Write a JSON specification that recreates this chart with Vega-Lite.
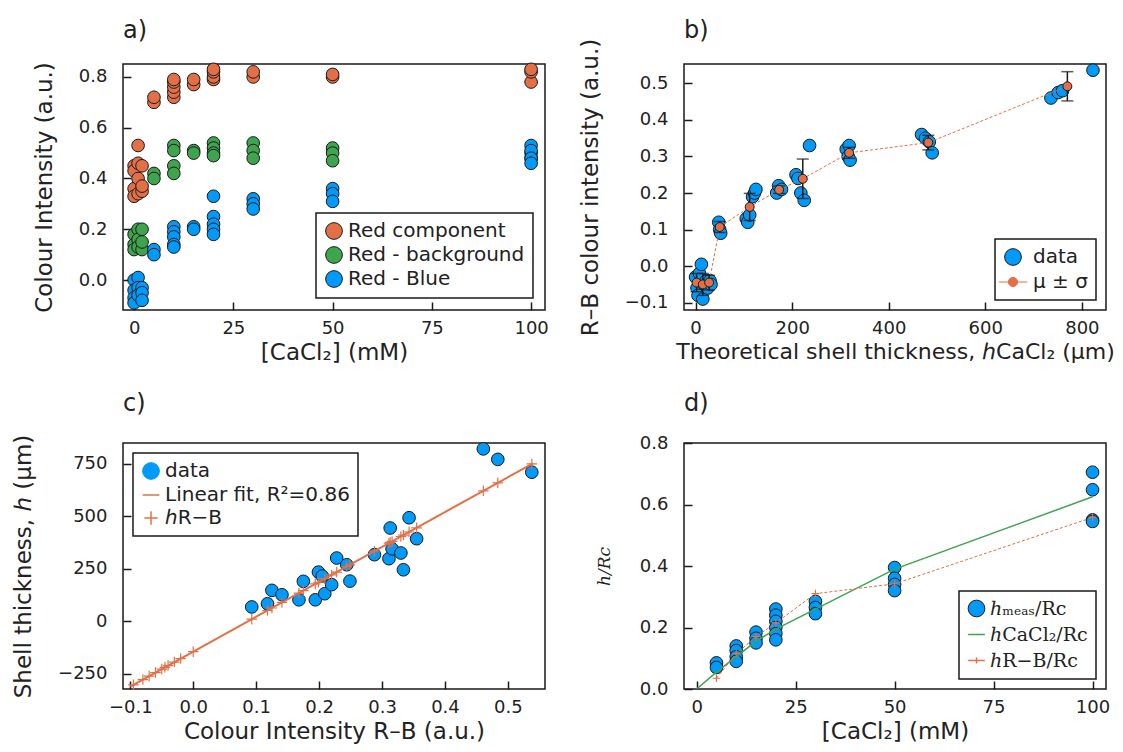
{
  "$schema": "https://vega.github.io/schema/vega-lite/v6.json",
  "background": "white",
  "padding": {"left": 11, "top": 18, "right": 5, "bottom": 5},
  "config": {
    "font": "DejaVu Sans",
    "view": {"stroke": "#1a1a1a", "strokeWidth": 1.5},
    "axis": {"grid": false, "domain": false, "tickSize": -8, "tickColor": "#1a1a1a", "tickWidth": 1.5, "labelFontSize": 18, "labelColor": "#222", "titleFontSize": 23, "titleFontWeight": "normal", "titleColor": "#222", "labelFont": "DejaVu Sans", "titleFont": "DejaVu Sans", "labelFlush": false, "labelOverlap": false, "labelBound": false, "titleLimit": 1000},
    "axisX": {"labelPadding": 17, "titlePadding": 4},
    "axisY": {"labelPadding": 24, "titlePadding": 22},
    "legend": {"strokeColor": "#1a1a1a", "strokeWidth": 1.5, "fillColor": "white", "padding": 8, "labelFontSize": 20, "labelColor": "#222", "labelFont": "DejaVu Sans", "labelLimit": 0, "symbolStrokeColor": "#1a1a1a", "symbolStrokeWidth": 1, "rowPadding": 2, "cornerRadius": 0, "symbolSize": 280, "symbolOpacity": 1},
    "title": {"anchor": "start", "frame": "group", "fontSize": 24, "fontWeight": "normal", "offset": 18, "color": "#222", "font": "DejaVu Sans"}
  },
  "datasets": {
    "a": [
      {"c": 0, "v": 0.45, "s": "Red component"}, {"c": 0, "v": 0.43, "s": "Red component"}, {"c": 0, "v": 0.36, "s": "Red component"}, {"c": 0, "v": 0.33, "s": "Red component"},
      {"c": 1, "v": 0.53, "s": "Red component"}, {"c": 1, "v": 0.40, "s": "Red component"}, {"c": 1, "v": 0.34, "s": "Red component"}, {"c": 1, "v": 0.46, "s": "Red component"},
      {"c": 2, "v": 0.45, "s": "Red component"}, {"c": 2, "v": 0.35, "s": "Red component"}, {"c": 2, "v": 0.37, "s": "Red component"},
      {"c": 5, "v": 0.70, "s": "Red component"}, {"c": 5, "v": 0.72, "s": "Red component"},
      {"c": 10, "v": 0.72, "s": "Red component"}, {"c": 10, "v": 0.74, "s": "Red component"}, {"c": 10, "v": 0.76, "s": "Red component"}, {"c": 10, "v": 0.78, "s": "Red component"}, {"c": 10, "v": 0.79, "s": "Red component"},
      {"c": 15, "v": 0.77, "s": "Red component"}, {"c": 15, "v": 0.79, "s": "Red component"},
      {"c": 20, "v": 0.79, "s": "Red component"}, {"c": 20, "v": 0.80, "s": "Red component"}, {"c": 20, "v": 0.82, "s": "Red component"}, {"c": 20, "v": 0.83, "s": "Red component"},
      {"c": 30, "v": 0.80, "s": "Red component"}, {"c": 30, "v": 0.82, "s": "Red component"},
      {"c": 50, "v": 0.80, "s": "Red component"}, {"c": 50, "v": 0.81, "s": "Red component"},
      {"c": 100, "v": 0.78, "s": "Red component"}, {"c": 100, "v": 0.82, "s": "Red component"}, {"c": 100, "v": 0.83, "s": "Red component"},
      {"c": 0, "v": 0.18, "s": "Red - background"}, {"c": 0, "v": 0.14, "s": "Red - background"}, {"c": 0, "v": 0.12, "s": "Red - background"},
      {"c": 1, "v": 0.20, "s": "Red - background"}, {"c": 1, "v": 0.16, "s": "Red - background"}, {"c": 1, "v": 0.13, "s": "Red - background"},
      {"c": 2, "v": 0.20, "s": "Red - background"}, {"c": 2, "v": 0.12, "s": "Red - background"}, {"c": 2, "v": 0.15, "s": "Red - background"},
      {"c": 5, "v": 0.42, "s": "Red - background"}, {"c": 5, "v": 0.40, "s": "Red - background"},
      {"c": 10, "v": 0.53, "s": "Red - background"}, {"c": 10, "v": 0.51, "s": "Red - background"}, {"c": 10, "v": 0.45, "s": "Red - background"}, {"c": 10, "v": 0.42, "s": "Red - background"},
      {"c": 15, "v": 0.51, "s": "Red - background"}, {"c": 15, "v": 0.50, "s": "Red - background"},
      {"c": 20, "v": 0.54, "s": "Red - background"}, {"c": 20, "v": 0.52, "s": "Red - background"}, {"c": 20, "v": 0.50, "s": "Red - background"}, {"c": 20, "v": 0.49, "s": "Red - background"},
      {"c": 30, "v": 0.54, "s": "Red - background"}, {"c": 30, "v": 0.51, "s": "Red - background"}, {"c": 30, "v": 0.48, "s": "Red - background"},
      {"c": 50, "v": 0.52, "s": "Red - background"}, {"c": 50, "v": 0.50, "s": "Red - background"}, {"c": 50, "v": 0.47, "s": "Red - background"},
      {"c": 100, "v": 0.50, "s": "Red - background"}, {"c": 100, "v": 0.48, "s": "Red - background"},
      {"c": 0, "v": 0.0, "s": "Red - Blue"}, {"c": 0, "v": -0.04, "s": "Red - Blue"}, {"c": 0, "v": -0.07, "s": "Red - Blue"}, {"c": 0, "v": -0.09, "s": "Red - Blue"},
      {"c": 1, "v": 0.01, "s": "Red - Blue"}, {"c": 1, "v": -0.03, "s": "Red - Blue"}, {"c": 1, "v": -0.06, "s": "Red - Blue"},
      {"c": 2, "v": -0.03, "s": "Red - Blue"}, {"c": 2, "v": -0.05, "s": "Red - Blue"}, {"c": 2, "v": -0.08, "s": "Red - Blue"},
      {"c": 5, "v": 0.12, "s": "Red - Blue"}, {"c": 5, "v": 0.10, "s": "Red - Blue"},
      {"c": 10, "v": 0.21, "s": "Red - Blue"}, {"c": 10, "v": 0.19, "s": "Red - Blue"}, {"c": 10, "v": 0.17, "s": "Red - Blue"}, {"c": 10, "v": 0.14, "s": "Red - Blue"}, {"c": 10, "v": 0.13, "s": "Red - Blue"},
      {"c": 15, "v": 0.21, "s": "Red - Blue"}, {"c": 15, "v": 0.20, "s": "Red - Blue"},
      {"c": 20, "v": 0.33, "s": "Red - Blue"}, {"c": 20, "v": 0.25, "s": "Red - Blue"}, {"c": 20, "v": 0.22, "s": "Red - Blue"}, {"c": 20, "v": 0.20, "s": "Red - Blue"}, {"c": 20, "v": 0.18, "s": "Red - Blue"},
      {"c": 30, "v": 0.32, "s": "Red - Blue"}, {"c": 30, "v": 0.30, "s": "Red - Blue"}, {"c": 30, "v": 0.28, "s": "Red - Blue"},
      {"c": 50, "v": 0.36, "s": "Red - Blue"}, {"c": 50, "v": 0.34, "s": "Red - Blue"}, {"c": 50, "v": 0.31, "s": "Red - Blue"},
      {"c": 100, "v": 0.53, "s": "Red - Blue"}, {"c": 100, "v": 0.51, "s": "Red - Blue"}, {"c": 100, "v": 0.48, "s": "Red - Blue"}, {"c": 100, "v": 0.46, "s": "Red - Blue"}
    ],
    "b": [
      {"h": 0, "r": -0.03, "s": "data"}, {"h": 3, "r": -0.06, "s": "data"}, {"h": 5, "r": -0.08, "s": "data"}, {"h": 8, "r": -0.02, "s": "data"},
      {"h": 12, "r": 0.005, "s": "data"}, {"h": 15, "r": -0.09, "s": "data"}, {"h": 18, "r": -0.05, "s": "data"}, {"h": 22, "r": -0.04, "s": "data"},
      {"h": 25, "r": -0.06, "s": "data"}, {"h": 30, "r": -0.04, "s": "data"}, {"h": 32, "r": -0.05, "s": "data"},
      {"h": 48, "r": 0.12, "s": "data"}, {"h": 50, "r": 0.10, "s": "data"}, {"h": 52, "r": 0.09, "s": "data"},
      {"h": 105, "r": 0.13, "s": "data"}, {"h": 108, "r": 0.12, "s": "data"}, {"h": 112, "r": 0.14, "s": "data"}, {"h": 118, "r": 0.19, "s": "data"}, {"h": 122, "r": 0.20, "s": "data"}, {"h": 125, "r": 0.21, "s": "data"},
      {"h": 168, "r": 0.20, "s": "data"}, {"h": 172, "r": 0.22, "s": "data"}, {"h": 178, "r": 0.21, "s": "data"},
      {"h": 208, "r": 0.25, "s": "data"}, {"h": 212, "r": 0.24, "s": "data"}, {"h": 218, "r": 0.20, "s": "data"}, {"h": 225, "r": 0.18, "s": "data"}, {"h": 236, "r": 0.33, "s": "data"},
      {"h": 312, "r": 0.32, "s": "data"}, {"h": 316, "r": 0.30, "s": "data"}, {"h": 320, "r": 0.29, "s": "data"}, {"h": 318, "r": 0.33, "s": "data"},
      {"h": 468, "r": 0.36, "s": "data"}, {"h": 476, "r": 0.35, "s": "data"}, {"h": 484, "r": 0.34, "s": "data"}, {"h": 490, "r": 0.31, "s": "data"},
      {"h": 736, "r": 0.46, "s": "data"}, {"h": 751, "r": 0.475, "s": "data"}, {"h": 760, "r": 0.48, "s": "data"}, {"h": 823, "r": 0.536, "s": "data"}
    ],
    "bm": [
      {"h": 2, "r": -0.045, "sd": 0.025, "s": "μ ± σ"}, {"h": 15, "r": -0.05, "sd": 0.03, "s": "μ ± σ"}, {"h": 28, "r": -0.045, "sd": 0.02, "s": "μ ± σ"},
      {"h": 50, "r": 0.107, "sd": 0.015, "s": "μ ± σ"}, {"h": 112, "r": 0.162, "sd": 0.037, "s": "μ ± σ"}, {"h": 173, "r": 0.209, "sd": 0.01, "s": "μ ± σ"},
      {"h": 222, "r": 0.239, "sd": 0.054, "s": "μ ± σ"}, {"h": 318, "r": 0.31, "sd": 0.015, "s": "μ ± σ"}, {"h": 482, "r": 0.338, "sd": 0.02, "s": "μ ± σ"},
      {"h": 770, "r": 0.492, "sd": 0.04, "s": "μ ± σ"}
    ],
    "c": [
      {"x": 0.093, "h": 68, "s": "data"}, {"x": 0.118, "h": 83, "s": "data"}, {"x": 0.125, "h": 147, "s": "data"}, {"x": 0.141, "h": 126, "s": "data"},
      {"x": 0.168, "h": 102, "s": "data"}, {"x": 0.175, "h": 190, "s": "data"}, {"x": 0.194, "h": 102, "s": "data"}, {"x": 0.199, "h": 234, "s": "data"},
      {"x": 0.205, "h": 215, "s": "data"}, {"x": 0.209, "h": 131, "s": "data"}, {"x": 0.220, "h": 174, "s": "data"}, {"x": 0.228, "h": 301, "s": "data"},
      {"x": 0.244, "h": 269, "s": "data"}, {"x": 0.249, "h": 191, "s": "data"}, {"x": 0.288, "h": 317, "s": "data"}, {"x": 0.311, "h": 298, "s": "data"},
      {"x": 0.313, "h": 444, "s": "data"}, {"x": 0.316, "h": 345, "s": "data"}, {"x": 0.330, "h": 325, "s": "data"}, {"x": 0.334, "h": 245, "s": "data"},
      {"x": 0.343, "h": 493, "s": "data"}, {"x": 0.355, "h": 393, "s": "data"}, {"x": 0.461, "h": 821, "s": "data"}, {"x": 0.484, "h": 771, "s": "data"},
      {"x": 0.538, "h": 710, "s": "data"}
    ],
    "cfit": [
      {"x": -0.1, "h": -311.2, "s": "Linear fit, R²=0.86"}, {"x": 0.54, "h": 752.5, "s": "Linear fit, R²=0.86"}
    ],
    "crb": [
      {"x": -0.095, "h": -302.9, "s": "ℎR−B"}, {"x": -0.08, "h": -278.0, "s": "ℎR−B"}, {"x": -0.07, "h": -261.3, "s": "ℎR−B"}, {"x": -0.06, "h": -244.7, "s": "ℎR−B"},
      {"x": -0.05, "h": -228.1, "s": "ℎR−B"}, {"x": -0.045, "h": -219.8, "s": "ℎR−B"}, {"x": -0.04, "h": -211.5, "s": "ℎR−B"}, {"x": -0.03, "h": -194.9, "s": "ℎR−B"},
      {"x": -0.02, "h": -178.2, "s": "ℎR−B"}, {"x": 0.0, "h": -145.0, "s": "ℎR−B"}, {"x": 0.093, "h": 9.6, "s": "ℎR−B"}, {"x": 0.118, "h": 51.1, "s": "ℎR−B"},
      {"x": 0.125, "h": 62.8, "s": "ℎR−B"}, {"x": 0.141, "h": 89.3, "s": "ℎR−B"}, {"x": 0.168, "h": 134.2, "s": "ℎR−B"}, {"x": 0.175, "h": 145.9, "s": "ℎR−B"},
      {"x": 0.194, "h": 177.4, "s": "ℎR−B"}, {"x": 0.199, "h": 185.7, "s": "ℎR−B"}, {"x": 0.209, "h": 202.4, "s": "ℎR−B"}, {"x": 0.22, "h": 220.6, "s": "ℎR−B"},
      {"x": 0.228, "h": 233.9, "s": "ℎR−B"}, {"x": 0.244, "h": 260.5, "s": "ℎR−B"}, {"x": 0.249, "h": 268.8, "s": "ℎR−B"}, {"x": 0.288, "h": 333.7, "s": "ℎR−B"},
      {"x": 0.311, "h": 371.9, "s": "ℎR−B"}, {"x": 0.313, "h": 375.2, "s": "ℎR−B"}, {"x": 0.316, "h": 380.2, "s": "ℎR−B"}, {"x": 0.33, "h": 403.5, "s": "ℎR−B"},
      {"x": 0.334, "h": 410.1, "s": "ℎR−B"}, {"x": 0.343, "h": 425.1, "s": "ℎR−B"}, {"x": 0.355, "h": 445.0, "s": "ℎR−B"}, {"x": 0.461, "h": 621.2, "s": "ℎR−B"},
      {"x": 0.484, "h": 659.4, "s": "ℎR−B"}, {"x": 0.538, "h": 749.2, "s": "ℎR−B"}
    ],
    "d": [
      {"c": 5, "v": 0.085, "s": "ℎₘₑₐₛ/Rc"}, {"c": 5, "v": 0.07, "s": "ℎₘₑₐₛ/Rc"},
      {"c": 10, "v": 0.14, "s": "ℎₘₑₐₛ/Rc"}, {"c": 10, "v": 0.125, "s": "ℎₘₑₐₛ/Rc"}, {"c": 10, "v": 0.105, "s": "ℎₘₑₐₛ/Rc"}, {"c": 10, "v": 0.09, "s": "ℎₘₑₐₛ/Rc"},
      {"c": 15, "v": 0.185, "s": "ℎₘₑₐₛ/Rc"}, {"c": 15, "v": 0.165, "s": "ℎₘₑₐₛ/Rc"}, {"c": 15, "v": 0.15, "s": "ℎₘₑₐₛ/Rc"},
      {"c": 20, "v": 0.26, "s": "ℎₘₑₐₛ/Rc"}, {"c": 20, "v": 0.24, "s": "ℎₘₑₐₛ/Rc"}, {"c": 20, "v": 0.22, "s": "ℎₘₑₐₛ/Rc"}, {"c": 20, "v": 0.20, "s": "ℎₘₑₐₛ/Rc"}, {"c": 20, "v": 0.18, "s": "ℎₘₑₐₛ/Rc"}, {"c": 20, "v": 0.16, "s": "ℎₘₑₐₛ/Rc"},
      {"c": 30, "v": 0.285, "s": "ℎₘₑₐₛ/Rc"}, {"c": 30, "v": 0.265, "s": "ℎₘₑₐₛ/Rc"}, {"c": 30, "v": 0.245, "s": "ℎₘₑₐₛ/Rc"},
      {"c": 50, "v": 0.395, "s": "ℎₘₑₐₛ/Rc"}, {"c": 50, "v": 0.36, "s": "ℎₘₑₐₛ/Rc"}, {"c": 50, "v": 0.34, "s": "ℎₘₑₐₛ/Rc"}, {"c": 50, "v": 0.32, "s": "ℎₘₑₐₛ/Rc"},
      {"c": 100, "v": 0.705, "s": "ℎₘₑₐₛ/Rc"}, {"c": 100, "v": 0.648, "s": "ℎₘₑₐₛ/Rc"}, {"c": 100, "v": 0.55, "s": "ℎₘₑₐₛ/Rc"}, {"c": 100, "v": 0.545, "s": "ℎₘₑₐₛ/Rc"}
    ],
    "dg": [
      {"c": 0, "v": 0.0}, {"c": 5, "v": 0.055}, {"c": 10, "v": 0.105}, {"c": 15, "v": 0.155}, {"c": 20, "v": 0.195}, {"c": 30, "v": 0.26}, {"c": 50, "v": 0.39}, {"c": 100, "v": 0.625}
    ],
    "do": [
      {"c": 5, "v": 0.035}, {"c": 10, "v": 0.115}, {"c": 15, "v": 0.17}, {"c": 20, "v": 0.215}, {"c": 30, "v": 0.31}, {"c": 50, "v": 0.342}, {"c": 100, "v": 0.558}
    ]
  },
  "columns": 2,
  "spacing": {"row": 26, "column": 28},
  "resolve": {"scale": {"x": "independent", "y": "independent", "color": "independent"}, "legend": {"color": "independent"}},
  "concat": [
    {
      "title": {"text": "a)"},
      "width": 422, "height": 246,
      "data": {"name": "a"},
      "mark": {"type": "point", "filled": true, "size": 160, "stroke": "#1a1a1a", "strokeWidth": 1, "opacity": 1},
      "encoding": {
        "x": {"field": "c", "type": "quantitative", "scale": {"domain": [-2.8, 103.5], "nice": false, "zero": false}, "axis": {"values": [0, 25, 50, 75, 100], "title": "[CaCl₂] (mM)"}},
        "y": {"field": "v", "type": "quantitative", "scale": {"domain": [-0.118, 0.851], "nice": false, "zero": false}, "axis": {"values": [0, 0.2, 0.4, 0.6, 0.8], "format": ".1f", "title": "Colour Intensity (a.u.)"}},
        "color": {"field": "s", "type": "nominal", "sort": null, "scale": {"domain": ["Red component", "Red - background", "Red - Blue"], "range": ["#E36F47", "#3EA44E", "#009AFA"]}, "legend": {"orient": "bottom-right", "offset": 12, "title": null, "symbolType": "circle"}}
      }
    },
    {
      "title": {"text": "b)", "offset": -5},
      "width": 422, "height": 246,
      "layer": [
        {
          "data": {"name": "b"},
          "mark": {"type": "point", "filled": true, "size": 160, "stroke": "#1a1a1a", "strokeWidth": 1, "opacity": 1},
          "encoding": {
            "x": {"field": "h", "type": "quantitative", "scale": {"domain": [-24, 850], "nice": false, "zero": false}, "axis": {"values": [0, 200, 400, 600, 800], "title": "Theoretical shell thickness, ℎCaCl₂ (μm)", "titleFontSize": 22}},
            "y": {"field": "r", "type": "quantitative", "scale": {"domain": [-0.12, 0.553], "nice": false, "zero": false}, "axis": {"values": [-0.1, 0, 0.1, 0.2, 0.3, 0.4, 0.5], "format": ".1f", "title": "R–B colour intensity (a.u.)"}},
            "color": {"field": "s", "type": "nominal", "scale": {"domain": ["data", "μ ± σ"], "range": ["#009AFA", "#E36F47"]}, "legend": {"orient": "bottom-right", "offset": 10, "title": null, "symbolType": "circle", "labelOffset": 10, "rowPadding": 4,
              "encode": {"symbols": {"update": {
                "shape": {"signal": "datum.index === 0 ? 'circle' : 'M-1.7,0L-0.55,0M0.55,0L1.7,0M0.55,0A0.55,0.55,0,1,1,-0.55,0A0.55,0.55,0,1,1,0.55,0'"},
                "stroke": {"signal": "datum.index === 0 ? '#1a1a1a' : '#E36F47'"}
              }}}}}
          }
        },
        {
          "data": {"name": "bm"},
          "mark": {"type": "line", "color": "#E36F47", "strokeWidth": 1, "strokeDash": [3, 2]},
          "encoding": {"x": {"field": "h", "type": "quantitative", "title": "Theoretical shell thickness, ℎCaCl₂ (μm)"}, "y": {"field": "r", "type": "quantitative", "title": "R–B colour intensity (a.u.)"}}
        },
        {
          "data": {"name": "bm"},
          "mark": {"type": "errorbar", "color": "#1a1a1a", "thickness": 1.5, "ticks": {"size": 12, "thickness": 1.5, "color": "#1a1a1a"}},
          "encoding": {"x": {"field": "h", "type": "quantitative", "title": "Theoretical shell thickness, ℎCaCl₂ (μm)"}, "y": {"field": "r", "type": "quantitative", "title": "R–B colour intensity (a.u.)"}, "yError": {"field": "sd"}}
        },
        {
          "data": {"name": "bm"},
          "mark": {"type": "point", "filled": true, "size": 80, "stroke": "#1a1a1a", "strokeWidth": 1, "opacity": 1},
          "encoding": {"x": {"field": "h", "type": "quantitative", "title": "Theoretical shell thickness, ℎCaCl₂ (μm)"}, "y": {"field": "r", "type": "quantitative", "title": "R–B colour intensity (a.u.)"}, "color": {"field": "s", "type": "nominal"}}
        }
      ]
    },
    {
      "title": {"text": "c)"},
      "width": 422, "height": 246,
      "layer": [
        {
          "data": {"name": "c"},
          "mark": {"type": "point", "filled": true, "size": 160, "stroke": "#1a1a1a", "strokeWidth": 1, "opacity": 1},
          "encoding": {
            "x": {"field": "x", "type": "quantitative", "scale": {"domain": [-0.1116, 0.559], "nice": false, "zero": false}, "axis": {"values": [-0.1, 0, 0.1, 0.2, 0.3, 0.4, 0.5], "format": ".1f", "title": "Colour Intensity R–B (a.u.)"}},
            "y": {"field": "h", "type": "quantitative", "scale": {"domain": [-323, 849], "nice": false, "zero": false}, "axis": {"values": [-250, 0, 250, 500, 750], "title": "Shell thickness, ℎ (μm)"}},
            "color": {"field": "s", "type": "nominal", "scale": {"domain": ["data", "Linear fit, R²=0.86", "ℎR−B"], "range": ["#009AFA", "#E36F47", "#E36F47"]}, "legend": {"orient": "top-left", "offset": 10, "title": null, "symbolType": "circle", "rowPadding": 3,
              "encode": {"symbols": {"update": {
                "shape": {"signal": "datum.index === 0 ? 'circle' : datum.index === 1 ? 'stroke' : 'M-0.8,0L0.8,0M0,-0.8L0,0.8'"},
                "stroke": {"signal": "datum.index === 0 ? '#1a1a1a' : '#E36F47'"},
                "strokeWidth": {"signal": "datum.index === 0 ? 1 : 1.5"},
                "fill": {"signal": "datum.index === 0 ? '#009AFA' : 'transparent'"}
              }}}}}
          }
        },
        {
          "data": {"name": "cfit"},
          "mark": {"type": "line", "color": "#E36F47", "strokeWidth": 2},
          "encoding": {"x": {"field": "x", "type": "quantitative", "title": "Colour Intensity R–B (a.u.)"}, "y": {"field": "h", "type": "quantitative", "title": "Shell thickness, ℎ (μm)"}}
        },
        {
          "data": {"name": "crb"},
          "mark": {"type": "point", "filled": false, "shape": "M-1,0L1,0M0,-1L0,1", "size": 110, "strokeWidth": 1.2, "opacity": 1},
          "encoding": {"x": {"field": "x", "type": "quantitative", "title": "Colour Intensity R–B (a.u.)"}, "y": {"field": "h", "type": "quantitative", "title": "Shell thickness, ℎ (μm)"}, "color": {"field": "s", "type": "nominal"}}
        }
      ]
    },
    {
      "title": {"text": "d)"},
      "width": 422, "height": 246,
      "layer": [
        {
          "data": {"name": "d"},
          "mark": {"type": "point", "filled": true, "size": 160, "stroke": "#1a1a1a", "strokeWidth": 1, "opacity": 1},
          "encoding": {
            "x": {"field": "c", "type": "quantitative", "scale": {"domain": [-3.2, 103.4], "nice": false, "zero": false}, "axis": {"values": [0, 25, 50, 75, 100], "title": "[CaCl₂] (mM)"}},
            "y": {"field": "v", "type": "quantitative", "scale": {"domain": [0, 0.8], "nice": false, "zero": false}, "axis": {"values": [0, 0.2, 0.4, 0.6, 0.8], "format": ".1f", "title": "ℎ/Rc", "titleFont": "DejaVu Serif", "titleFontStyle": "italic", "titleFontSize": 17, "titlePadding": 26}},
            "color": {"field": "s", "type": "nominal", "scale": {"domain": ["ℎₘₑₐₛ/Rc", "ℎCaCl₂/Rc", "ℎR−B/Rc"], "range": ["#009AFA", "#3EA44E", "#E36F47"]}, "legend": {"orient": "bottom-right", "offset": 10, "title": null, "symbolType": "circle", "labelFont": "DejaVu Serif", "labelFontSize": 19, "rowPadding": 6,
              "encode": {"symbols": {"update": {
                "shape": {"signal": "datum.index === 0 ? 'circle' : datum.index === 1 ? 'stroke' : 'M-1,0L1,0M0,-0.35L0,0.35'"},
                "stroke": {"signal": "datum.index === 0 ? '#1a1a1a' : datum.index === 1 ? '#3EA44E' : '#E36F47'"},
                "strokeWidth": {"signal": "datum.index === 0 ? 1 : 1.5"},
                "fill": {"signal": "datum.index === 0 ? '#009AFA' : 'transparent'"}
              }}}}}
          }
        },
        {
          "data": {"name": "dg"},
          "mark": {"type": "line", "color": "#3EA44E", "strokeWidth": 1.5},
          "encoding": {"x": {"field": "c", "type": "quantitative", "title": "[CaCl₂] (mM)"}, "y": {"field": "v", "type": "quantitative", "title": "ℎ/Rc"}}
        },
        {
          "data": {"name": "do"},
          "mark": {"type": "line", "color": "#E36F47", "strokeWidth": 1, "strokeDash": [3, 2]},
          "encoding": {"x": {"field": "c", "type": "quantitative", "title": "[CaCl₂] (mM)"}, "y": {"field": "v", "type": "quantitative", "title": "ℎ/Rc"}}
        },
        {
          "data": {"name": "do"},
          "mark": {"type": "point", "filled": false, "shape": "M-1,0L1,0M0,-1L0,1", "size": 60, "strokeWidth": 1.2, "color": "#E36F47", "opacity": 1},
          "encoding": {"x": {"field": "c", "type": "quantitative", "title": "[CaCl₂] (mM)"}, "y": {"field": "v", "type": "quantitative", "title": "ℎ/Rc"}}
        }
      ]
    }
  ]
}
